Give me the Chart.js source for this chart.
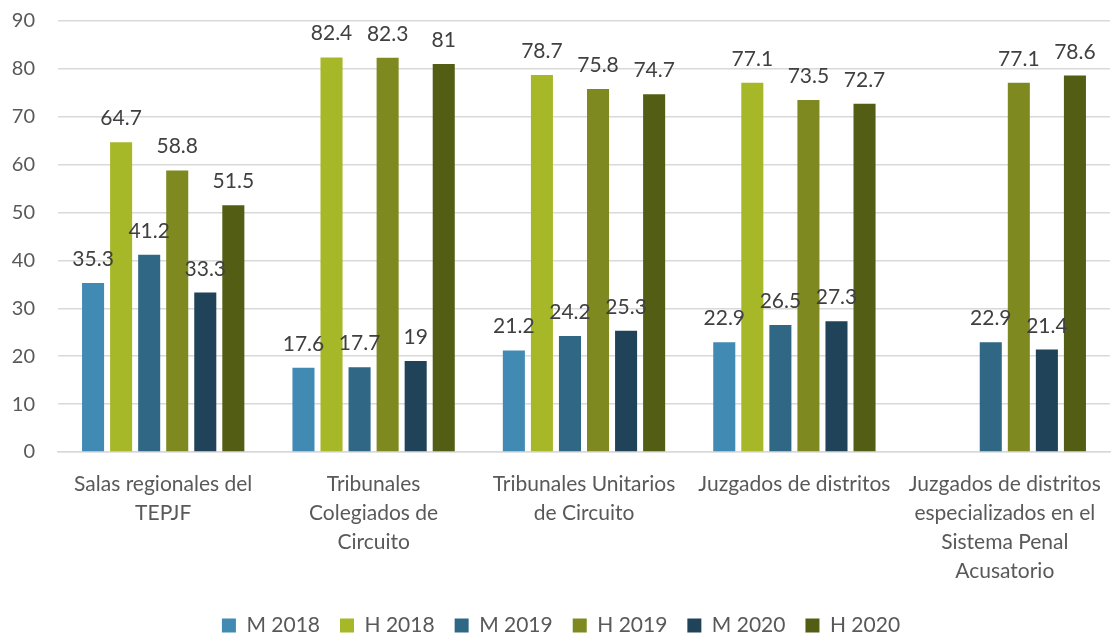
<!DOCTYPE html>
<html lang="es">
<head>
    <meta charset="UTF-8">
    <title>Personas juzgadoras por sexo</title>
    <script src="https://cdn.jsdelivr.net/npm/chart.js"></script>
    <style>
        html, body { margin: 0; padding: 0; background: #fff; }
        #wrap { width: 1113px; height: 636px; }
    </style>
</head>
<body>
    <div id="wrap"><canvas id="grafica"></canvas></div>

    <script>
        const categorias = [
            ["Salas regionales del", "TEPJF"],
            ["Tribunales", "Colegiados de", "Circuito"],
            ["Tribunales Unitarios", "de Circuito"],
            ["Juzgados de distritos"],
            ["Juzgados de distritos", "especializados en el", "Sistema Penal", "Acusatorio"]
        ];
        const series = ["M 2018", "H 2018", "M 2019", "H 2019", "M 2020", "H 2020"];
        const m2018 = [35.3, 17.6, 21.2, 22.9, null];
        const h2018 = [64.7, 82.4, 78.7, 77.1, null];
        const m2019 = [41.2, 17.7, 24.2, 26.5, 22.9];
        const h2019 = [58.8, 82.3, 75.8, 73.5, 77.1];
        const m2020 = [33.3, 19, 25.3, 27.3, 21.4];
        const h2020 = [51.5, 81, 74.7, 72.7, 78.6];
        const colores = ["#418AB3", "#A6B727", "#306785", "#7E8A1F", "#20435A", "#535D14"];
        const yTicks = [0, 10, 20, 30, 40, 50, 60, 70, 80, 90];

        const valores = [m2018, h2018, m2019, h2019, m2020, h2020];
        const fuente = 'Lato, "Open Sans", sans-serif';

        // etiquetas de valor encima de cada barra
        const etiquetas = {
            id: 'etiquetas',
            afterDatasetsDraw(chart) {
                const ctx = chart.ctx;
                ctx.save();
                ctx.font = '21px ' + fuente;
                ctx.fillStyle = '#404040';
                ctx.textAlign = 'center';
                ctx.textBaseline = 'alphabetic';
                chart.data.datasets.forEach((ds, i) => {
                    const meta = chart.getDatasetMeta(i);
                    meta.data.forEach((bar, j) => {
                        const v = ds.data[j];
                        if (v === null) return;
                        ctx.fillText(String(v), bar.x, bar.y - 17);
                    });
                });
                ctx.restore();
            }
        };

        // leyenda más baja: se recorta su alto sin perder el espacio entre elementos
        const leyendaBaja = {
            id: 'leyendaBaja',
            beforeLayout(chart) {
                const lg = chart.legend;
                if (!lg || lg._ajustada) return;
                const fitOrig = lg.fit.bind(lg);
                lg.fit = function () {
                    fitOrig();
                    this.height = 41;
                };
                lg._ajustada = true;
            }
        };

        Chart.defaults.font.family = fuente;
        Chart.defaults.font.size = 20;
        Chart.defaults.color = '#595959';

        new Chart(document.getElementById('grafica'), {
            type: 'bar',
            data: {
                labels: categorias,
                datasets: series.map((s, i) => ({
                    label: s,
                    data: valores[i],
                    backgroundColor: colores[i],
                    borderWidth: 0
                }))
            },
            options: {
                responsive: true,
                maintainAspectRatio: false,
                animation: false,
                layout: { padding: { top: 21, right: 3, left: 12, bottom: 0 } },
                datasets: {
                    bar: { barPercentage: 0.786, categoryPercentage: 0.8 }
                },
                plugins: {
                    legend: {
                        position: 'bottom',
                        labels: { boxWidth: 14, boxHeight: 14, padding: 20, font: { size: 21 } }
                    },
                    tooltip: { enabled: false }
                },
                scales: {
                    y: {
                        min: 0,
                        max: 90,
                        afterBuildTicks: (axis) => { axis.ticks = yTicks.map(v => ({ value: v })); },
                        grid: { color: '#D9D9D9', lineWidth: 1.5, drawTicks: false },
                        border: { display: false },
                        ticks: { padding: 23, font: { size: 20 } },
                        afterFit: (scale) => { scale.width = 46; scale.paddingTop = 0; scale.paddingBottom = 0; }
                    },
                    x: {
                        grid: { display: false },
                        border: { color: '#D9D9D9', width: 1.5 },
                        ticks: { padding: 10, maxRotation: 0, autoSkip: false, font: { size: 21, lineHeight: 1.38 } },
                        afterFit: (scale) => { scale.paddingLeft = 0; scale.paddingRight = 0; scale.height = 143; }
                    }
                }
            },
            plugins: [etiquetas, leyendaBaja]
        });
    </script>
</body>
</html>
